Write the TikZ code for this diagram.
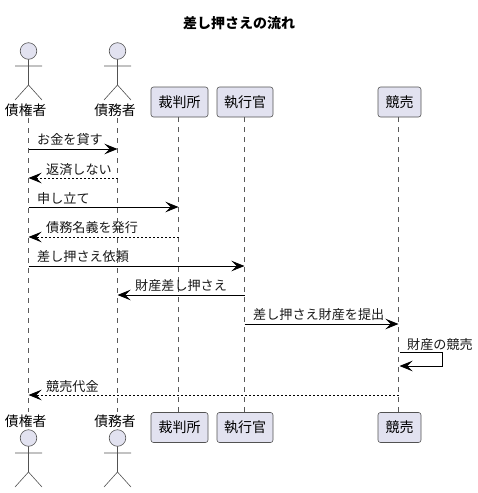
\documentclass[tikz,border=0pt]{standalone}
\usepackage{fontspec}
\setmainfont{Noto Sans CJK JP}
\usepackage{tikz}
\usetikzlibrary{arrows.meta, positioning, calc}
\definecolor{partfill}{HTML}{E2E2F0}
\definecolor{partline}{HTML}{181818}
\tikzstyle{lifeline}=[draw=black!65, line width=0.6pt, dash pattern=on 5pt off 5pt]
\tikzstyle{callmsg}=[-{Stealth[length=13pt,width=10.5pt,inset=5pt]}, color=black, line width=1pt]
\tikzstyle{backmsg}=[callmsg, dash pattern=on 2pt off 2pt]
\tikzstyle{partbox}=[draw=partline!75, fill=partfill, rounded corners=2.5pt, line width=0.6pt,
  minimum height=30pt, inner sep=0pt, font=\fontsize{14}{16}\selectfont]
\tikzstyle{actorshape}=[draw=partline!75, line width=0.6pt]
\tikzstyle{actorname}=[inner sep=0pt, font=\fontsize{13.8}{16}\selectfont]
\tikzstyle{msgtext}=[right, inner sep=0pt, color=partline, font=\fontsize{13.1}{15}\selectfont]

\begin{document}
\begin{tikzpicture}[x=1pt, y=-1pt]
  \useasboundingbox (0,0) rectangle (477,493);

  % Title
  \node[inner sep=0pt, font=\fontsize{14}{16}\selectfont\bfseries] (title) at (239,23) {差し押さえの流れ};

  % Participants, top and bottom
  \foreach \yi/\pos in {102/top,427.5/bot}{
    \node[partbox, minimum width=57pt] (court\pos) at (179.5,\yi) {裁判所};
    \node[partbox, minimum width=56pt] (bailiff\pos) at (245,\yi) {執行官};
    \node[partbox, minimum width=43pt] (auction\pos) at (399.5,\yi) {競売};
  }
  \foreach \name/\xi/\xl/\txt in {creditor/28.5/25.7/債権者,debtor/117.5/115/債務者}{
    \node[actorname] (\name top) at (\xl,110.5) {\txt};
    \node[actorname] (\name bot) at (\xl,421.5) {\txt};
    % Stick figure above
    \draw[actorshape, fill=partfill] (\xi,51) circle (8.3);
    \draw[actorshape] (\xi,59.3)--(\xi,85) (\xi-13.5,66)--(\xi+13.5,66)
      (\xi-13.5,100)--(\xi,85)--(\xi+13.5,100);
    % Stick figure below
    \draw[actorshape, fill=partfill] (\xi,438) circle (8.3);
    \draw[actorshape] (\xi,446.3)--(\xi,472) (\xi-13.5,453)--(\xi+13.5,453)
      (\xi-13.5,487)--(\xi,472)--(\xi+13.5,487);
  }

  % Lifelines
  \draw[lifeline] (28.5,118) coordinate (creditorstart) -- (28.5,412);
  \draw[lifeline] (117.5,118) coordinate (debtorstart) -- (117.5,412);
  \draw[lifeline] (courttop) ++(-1,15) coordinate (courtstart) -- (courtstart |- courtbot.north);
  \draw[lifeline] (bailifftop) ++(-0.5,15) coordinate (bailiffstart) -- (bailiffstart |- bailiffbot.north);
  \draw[lifeline] (auctiontop) ++(-1,15) coordinate (auctionstart) -- (auctionstart |- auctionbot.north);

  % Message end points on each lifeline
  \foreach \name/\xi in {cr/28.5,de/117.5,co/178.5,ba/244.5,au/398.5}{
    \foreach \yi in {149,178,207,237,266,295,324,395}{
      \coordinate (\name\yi) at (\xi,\yi);
    }
  }
  \coordinate (selfa) at (399.5,352);
  \coordinate (selfb) at (442.5,352);
  \coordinate (selfc) at (442.5,366);
  \coordinate (selfd) at (399.5,366);

  % Messages
  \draw[callmsg] (cr149) -- (de149);
  \node[msgtext] (loan) at (37,140) {お金を貸す};
  \draw[backmsg] (de178) -- (cr178);
  \node[msgtext] (nopay) at (46,170) {返済しない};
  \draw[callmsg] (cr207) -- (co207);
  \node[msgtext] (petition) at (37,199) {申し立て};
  \draw[backmsg] (co237) -- (cr237);
  \node[msgtext] (title237) at (46,228) {債務名義を発行};
  \draw[callmsg] (cr266) -- (ba266);
  \node[msgtext] (request) at (37,257) {差し押さえ依頼};
  \draw[callmsg] (ba295) -- (de295);
  \node[msgtext] (seize) at (135,286) {財産差し押さえ};
  \draw[callmsg] (ba324) -- (au324);
  \node[msgtext] (submit) at (253,315) {差し押さえ財産を提出};
  \draw[callmsg] (selfa) -- (selfb) -- (selfc) -- (selfd);
  \node[msgtext] (sale) at (407,345) {財産の競売};
  \draw[backmsg] (au395) -- (cr395);
  \node[msgtext] (proceeds) at (46,387) {競売代金};
\end{tikzpicture}
\end{document}
